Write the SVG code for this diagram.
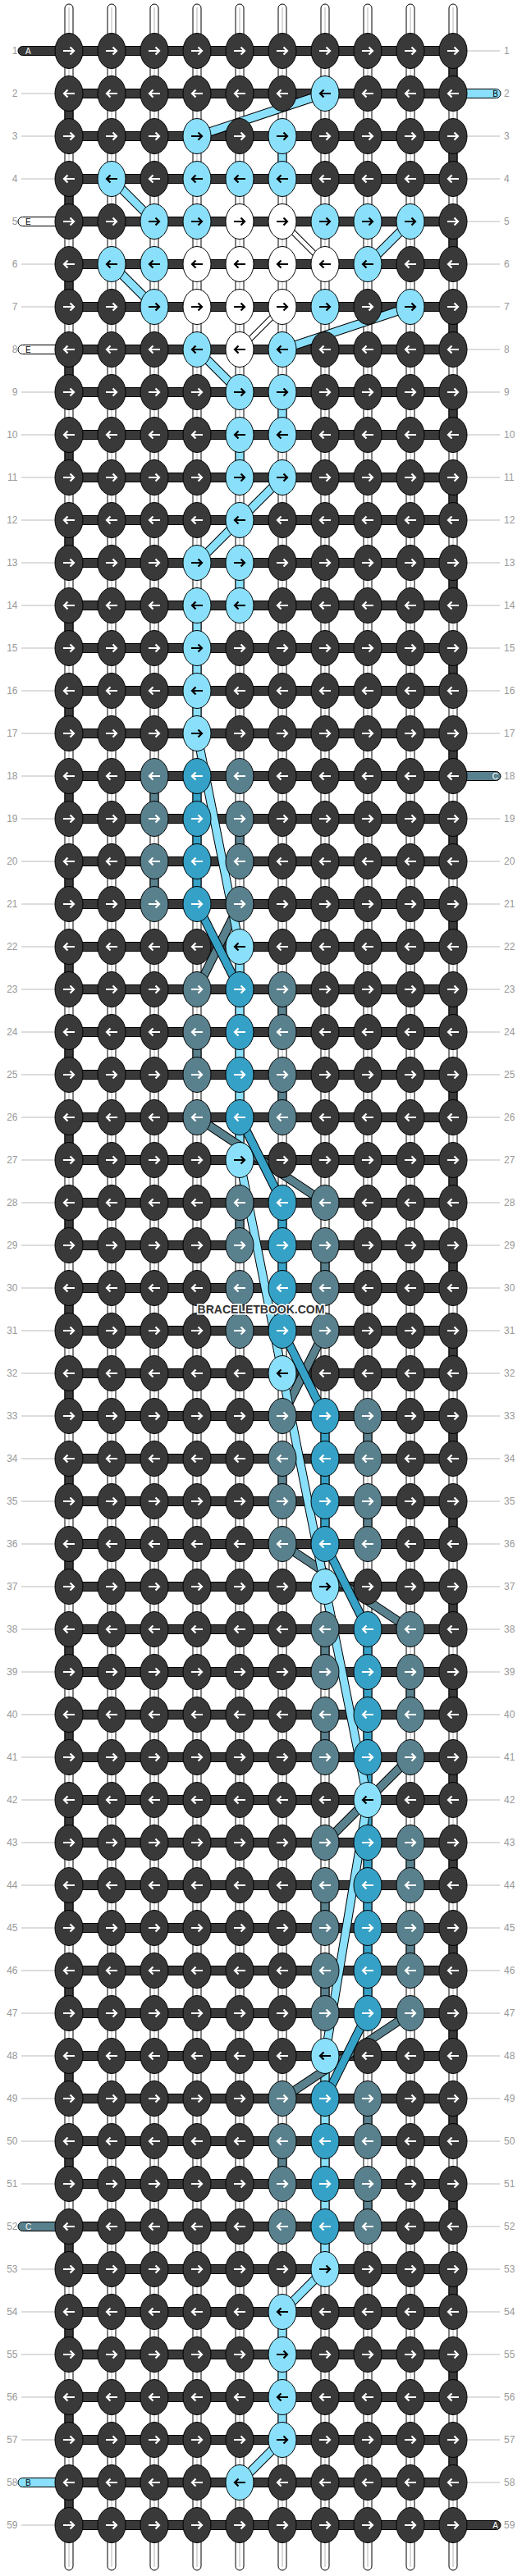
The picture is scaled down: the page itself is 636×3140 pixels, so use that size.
<svg xmlns="http://www.w3.org/2000/svg" xmlns:xlink="http://www.w3.org/1999/xlink" width="636" height="3140" viewBox="0 0 636 3140">
<style>
.wp{fill:#fff;stroke:#000;stroke-width:1}
.wc{stroke:#b4b4b4;stroke-width:1}
.bar{fill:#383838;stroke:#000;stroke-width:1}
.sD{fill:#383838;stroke:#000;stroke-width:1}
.sL{fill:#8ae0fa;stroke:#000;stroke-width:1}
.sM{fill:#35a1c6;stroke:#000;stroke-width:1}
.sG{fill:#59808d;stroke:#000;stroke-width:1}
.sW{fill:#fff;stroke:#000;stroke-width:1}
.ol{fill:none;stroke:#000;stroke-width:11}
.olw{fill:none;stroke:#000;stroke-width:7}
.fL{fill:none;stroke:#8ae0fa;stroke-width:9}
.fM{fill:none;stroke:#35a1c6;stroke-width:9}
.fG{fill:none;stroke:#59808d;stroke-width:9}
.fW{fill:none;stroke:#fff;stroke-width:5}
.ll{stroke:#bbb;stroke-width:1}
.lb{font-family:"Liberation Sans",Arial,sans-serif;font-size:12px;fill:#999}
.lbr{font-family:"Liberation Sans",Arial,sans-serif;font-size:12px;fill:#999}
.tt{font-family:"Liberation Sans",Arial,sans-serif;font-size:10px}
.wm{font-family:"Liberation Sans",Arial,sans-serif;font-size:14px;font-weight:bold;fill:#333;stroke:#fff;stroke-width:3;paint-order:stroke}
</style>
<defs>
<path id="ar" d="M-7,0H5.5M1.5,-4.6L6,0L1.5,4.6" fill="none" stroke-width="2.2"/>
<g id="dR"><ellipse rx="17" ry="21.5" fill="#393939" stroke="#000"/><use href="#ar" stroke="#fff"/></g>
<g id="dL"><ellipse rx="17" ry="21.5" fill="#393939" stroke="#000"/><use href="#ar" stroke="#fff" transform="scale(-1,1)"/></g>
<g id="lR"><ellipse rx="17" ry="21.5" fill="#8ae0fa" stroke="#000"/><use href="#ar" stroke="#000"/></g>
<g id="lL"><ellipse rx="17" ry="21.5" fill="#8ae0fa" stroke="#000"/><use href="#ar" stroke="#000" transform="scale(-1,1)"/></g>
<g id="wR"><ellipse rx="17" ry="21.5" fill="#fff" stroke="#000"/><use href="#ar" stroke="#000"/></g>
<g id="wL"><ellipse rx="17" ry="21.5" fill="#fff" stroke="#000"/><use href="#ar" stroke="#000" transform="scale(-1,1)"/></g>
<g id="mR"><ellipse rx="17" ry="21.5" fill="#35a1c6" stroke="#000"/><use href="#ar" stroke="#fff"/></g>
<g id="mL"><ellipse rx="17" ry="21.5" fill="#35a1c6" stroke="#000"/><use href="#ar" stroke="#fff" transform="scale(-1,1)"/></g>
<g id="gR"><ellipse rx="17" ry="21.5" fill="#59808d" stroke="#000"/><use href="#ar" stroke="#fff"/></g>
<g id="gL"><ellipse rx="17" ry="21.5" fill="#59808d" stroke="#000"/><use href="#ar" stroke="#fff" transform="scale(-1,1)"/></g>
</defs>
<rect width="636" height="3140" fill="#fff"/>
<g id="labels">
<path class="ll" d="M26,114H67M26,166H67M26,218H67M26,322H67M26,374H67M26,478H67M26,530H67M26,582H67M26,634H67M26,686H67M26,738H67M26,790H67M26,842H67M26,894H67M26,946H67M26,998H67M26,1050H67M26,1102H67M26,1154H67M26,1206H67M26,1258H67M26,1310H67M26,1362H67M26,1414H67M26,1466H67M26,1518H67M26,1570H67M26,1622H67M26,1674H67M26,1726H67M26,1778H67M26,1830H67M26,1882H67M26,1934H67M26,1986H67M26,2038H67M26,2090H67M26,2142H67M26,2194H67M26,2246H67M26,2298H67M26,2350H67M26,2402H67M26,2454H67M26,2506H67M26,2558H67M26,2610H67M26,2662H67M26,2766H67M26,2818H67M26,2870H67M26,2922H67M26,2974H67M26,3078H67"/>
<path class="ll" d="M569,62H609M569,166H609M569,218H609M569,270H609M569,322H609M569,374H609M569,426H609M569,478H609M569,530H609M569,582H609M569,634H609M569,686H609M569,738H609M569,790H609M569,842H609M569,894H609M569,998H609M569,1050H609M569,1102H609M569,1154H609M569,1206H609M569,1258H609M569,1310H609M569,1362H609M569,1414H609M569,1466H609M569,1518H609M569,1570H609M569,1622H609M569,1674H609M569,1726H609M569,1778H609M569,1830H609M569,1882H609M569,1934H609M569,1986H609M569,2038H609M569,2090H609M569,2142H609M569,2194H609M569,2246H609M569,2298H609M569,2350H609M569,2402H609M569,2454H609M569,2506H609M569,2558H609M569,2610H609M569,2662H609M569,2714H609M569,2766H609M569,2818H609M569,2870H609M569,2922H609M569,2974H609M569,3026H609"/>
<g class="lb" text-anchor="end">
<text x="21.5" y="66.3">1</text><text x="21.5" y="118.3">2</text><text x="21.5" y="170.3">3</text><text x="21.5" y="222.3">4</text><text x="21.5" y="274.3">5</text><text x="21.5" y="326.3">6</text><text x="21.5" y="378.3">7</text><text x="21.5" y="430.3">8</text><text x="21.5" y="482.3">9</text><text x="21.5" y="534.3">10</text><text x="21.5" y="586.3">11</text><text x="21.5" y="638.3">12</text><text x="21.5" y="690.3">13</text><text x="21.5" y="742.3">14</text><text x="21.5" y="794.3">15</text><text x="21.5" y="846.3">16</text><text x="21.5" y="898.3">17</text><text x="21.5" y="950.3">18</text><text x="21.5" y="1002.3">19</text><text x="21.5" y="1054.3">20</text><text x="21.5" y="1106.3">21</text><text x="21.5" y="1158.3">22</text><text x="21.5" y="1210.3">23</text><text x="21.5" y="1262.3">24</text><text x="21.5" y="1314.3">25</text><text x="21.5" y="1366.3">26</text><text x="21.5" y="1418.3">27</text><text x="21.5" y="1470.3">28</text><text x="21.5" y="1522.3">29</text><text x="21.5" y="1574.3">30</text><text x="21.5" y="1626.3">31</text><text x="21.5" y="1678.3">32</text><text x="21.5" y="1730.3">33</text><text x="21.5" y="1782.3">34</text><text x="21.5" y="1834.3">35</text><text x="21.5" y="1886.3">36</text><text x="21.5" y="1938.3">37</text><text x="21.5" y="1990.3">38</text><text x="21.5" y="2042.3">39</text><text x="21.5" y="2094.3">40</text><text x="21.5" y="2146.3">41</text><text x="21.5" y="2198.3">42</text><text x="21.5" y="2250.3">43</text><text x="21.5" y="2302.3">44</text><text x="21.5" y="2354.3">45</text><text x="21.5" y="2406.3">46</text><text x="21.5" y="2458.3">47</text><text x="21.5" y="2510.3">48</text><text x="21.5" y="2562.3">49</text><text x="21.5" y="2614.3">50</text><text x="21.5" y="2666.3">51</text><text x="21.5" y="2718.3">52</text><text x="21.5" y="2770.3">53</text><text x="21.5" y="2822.3">54</text><text x="21.5" y="2874.3">55</text><text x="21.5" y="2926.3">56</text><text x="21.5" y="2978.3">57</text><text x="21.5" y="3030.3">58</text><text x="21.5" y="3082.3">59</text>
</g>
<g class="lbr">
<text x="614" y="66.3">1</text><text x="614" y="118.3">2</text><text x="614" y="170.3">3</text><text x="614" y="222.3">4</text><text x="614" y="274.3">5</text><text x="614" y="326.3">6</text><text x="614" y="378.3">7</text><text x="614" y="430.3">8</text><text x="614" y="482.3">9</text><text x="614" y="534.3">10</text><text x="614" y="586.3">11</text><text x="614" y="638.3">12</text><text x="614" y="690.3">13</text><text x="614" y="742.3">14</text><text x="614" y="794.3">15</text><text x="614" y="846.3">16</text><text x="614" y="898.3">17</text><text x="614" y="950.3">18</text><text x="614" y="1002.3">19</text><text x="614" y="1054.3">20</text><text x="614" y="1106.3">21</text><text x="614" y="1158.3">22</text><text x="614" y="1210.3">23</text><text x="614" y="1262.3">24</text><text x="614" y="1314.3">25</text><text x="614" y="1366.3">26</text><text x="614" y="1418.3">27</text><text x="614" y="1470.3">28</text><text x="614" y="1522.3">29</text><text x="614" y="1574.3">30</text><text x="614" y="1626.3">31</text><text x="614" y="1678.3">32</text><text x="614" y="1730.3">33</text><text x="614" y="1782.3">34</text><text x="614" y="1834.3">35</text><text x="614" y="1886.3">36</text><text x="614" y="1938.3">37</text><text x="614" y="1990.3">38</text><text x="614" y="2042.3">39</text><text x="614" y="2094.3">40</text><text x="614" y="2146.3">41</text><text x="614" y="2198.3">42</text><text x="614" y="2250.3">43</text><text x="614" y="2302.3">44</text><text x="614" y="2354.3">45</text><text x="614" y="2406.3">46</text><text x="614" y="2458.3">47</text><text x="614" y="2510.3">48</text><text x="614" y="2562.3">49</text><text x="614" y="2614.3">50</text><text x="614" y="2666.3">51</text><text x="614" y="2718.3">52</text><text x="614" y="2770.3">53</text><text x="614" y="2822.3">54</text><text x="614" y="2874.3">55</text><text x="614" y="2926.3">56</text><text x="614" y="2978.3">57</text><text x="614" y="3030.3">58</text><text x="614" y="3082.3">59</text>
</g>
</g>
<g id="connectors">
<g id="warps">
<rect class="wp" x="79" y="5" width="10" height="3128" rx="5"/><rect class="wp" x="131" y="5" width="10" height="3128" rx="5"/><rect class="wp" x="183" y="5" width="10" height="3128" rx="5"/><rect class="wp" x="235" y="5" width="10" height="3128" rx="5"/><rect class="wp" x="287" y="5" width="10" height="3128" rx="5"/><rect class="wp" x="339" y="5" width="10" height="3128" rx="5"/><rect class="wp" x="391" y="5" width="10" height="3128" rx="5"/><rect class="wp" x="443" y="5" width="10" height="3128" rx="5"/><rect class="wp" x="495" y="5" width="10" height="3128" rx="5"/><rect class="wp" x="547" y="5" width="10" height="3128" rx="5"/>
<path class="wc" d="M84,9V3129M136,9V3129M188,9V3129M240,9V3129M292,9V3129M344,9V3129M396,9V3129M448,9V3129M500,9V3129M552,9V3129"/>
</g>
<g id="turns" class="sD">
<rect x="547" y="62" width="10" height="52"/><rect x="547" y="166" width="10" height="52"/><rect x="547" y="270" width="10" height="52"/><rect x="547" y="374" width="10" height="52"/><rect x="547" y="478" width="10" height="52"/><rect x="547" y="582" width="10" height="52"/><rect x="547" y="686" width="10" height="52"/><rect x="547" y="790" width="10" height="52"/><rect x="547" y="894" width="10" height="52"/><rect x="547" y="998" width="10" height="52"/><rect x="547" y="1102" width="10" height="52"/><rect x="547" y="1206" width="10" height="52"/><rect x="547" y="1310" width="10" height="52"/><rect x="547" y="1414" width="10" height="52"/><rect x="547" y="1518" width="10" height="52"/><rect x="547" y="1622" width="10" height="52"/><rect x="547" y="1726" width="10" height="52"/><rect x="547" y="1830" width="10" height="52"/><rect x="547" y="1934" width="10" height="52"/><rect x="547" y="2038" width="10" height="52"/><rect x="547" y="2142" width="10" height="52"/><rect x="547" y="2246" width="10" height="52"/><rect x="547" y="2350" width="10" height="52"/><rect x="547" y="2454" width="10" height="52"/><rect x="547" y="2558" width="10" height="52"/><rect x="547" y="2662" width="10" height="52"/><rect x="547" y="2766" width="10" height="52"/><rect x="547" y="2870" width="10" height="52"/><rect x="547" y="2974" width="10" height="52"/>
<rect x="79" y="114" width="10" height="52"/><rect x="79" y="218" width="10" height="52"/><rect x="79" y="322" width="10" height="52"/><rect x="79" y="426" width="10" height="52"/><rect x="79" y="530" width="10" height="52"/><rect x="79" y="634" width="10" height="52"/><rect x="79" y="738" width="10" height="52"/><rect x="79" y="842" width="10" height="52"/><rect x="79" y="946" width="10" height="52"/><rect x="79" y="1050" width="10" height="52"/><rect x="79" y="1154" width="10" height="52"/><rect x="79" y="1258" width="10" height="52"/><rect x="79" y="1362" width="10" height="52"/><rect x="79" y="1466" width="10" height="52"/><rect x="79" y="1570" width="10" height="52"/><rect x="79" y="1674" width="10" height="52"/><rect x="79" y="1778" width="10" height="52"/><rect x="79" y="1882" width="10" height="52"/><rect x="79" y="1986" width="10" height="52"/><rect x="79" y="2090" width="10" height="52"/><rect x="79" y="2194" width="10" height="52"/><rect x="79" y="2298" width="10" height="52"/><rect x="79" y="2402" width="10" height="52"/><rect x="79" y="2506" width="10" height="52"/><rect x="79" y="2610" width="10" height="52"/><rect x="79" y="2714" width="10" height="52"/><rect x="79" y="2818" width="10" height="52"/><rect x="79" y="2922" width="10" height="52"/><rect x="79" y="3026" width="10" height="52"/>
</g>
<g id="vsegL" class="sL">
<rect x="339" y="166" width="10" height="52"/><rect x="339" y="478" width="10" height="52"/><rect x="287" y="530" width="10" height="52"/><rect x="287" y="686" width="10" height="52"/><rect x="235" y="738" width="10" height="52"/><rect x="235" y="790" width="10" height="52"/><rect x="235" y="842" width="10" height="52"/><rect x="287" y="1154" width="10" height="52"/><rect x="287" y="1206" width="10" height="52"/><rect x="287" y="1258" width="10" height="52"/><rect x="287" y="1310" width="10" height="52"/><rect x="287" y="1362" width="10" height="52"/><rect x="391" y="2506" width="10" height="52"/><rect x="391" y="2558" width="10" height="52"/><rect x="391" y="2610" width="10" height="52"/><rect x="391" y="2662" width="10" height="52"/><rect x="391" y="2714" width="10" height="52"/><rect x="339" y="2818" width="10" height="52"/><rect x="339" y="2870" width="10" height="52"/><rect x="339" y="2922" width="10" height="52"/>
</g>
<g id="vsegM" class="sM">
<rect x="235" y="946" width="10" height="52"/><rect x="235" y="998" width="10" height="52"/><rect x="235" y="1050" width="10" height="52"/><rect x="339" y="1466" width="10" height="52"/><rect x="339" y="1518" width="10" height="52"/><rect x="339" y="1570" width="10" height="52"/><rect x="391" y="1726" width="10" height="52"/><rect x="391" y="1778" width="10" height="52"/><rect x="391" y="1830" width="10" height="52"/><rect x="443" y="1986" width="10" height="52"/><rect x="443" y="2038" width="10" height="52"/><rect x="443" y="2090" width="10" height="52"/><rect x="443" y="2142" width="10" height="52"/><rect x="443" y="2194" width="10" height="52"/><rect x="443" y="2246" width="10" height="52"/><rect x="443" y="2298" width="10" height="52"/><rect x="443" y="2350" width="10" height="52"/><rect x="443" y="2402" width="10" height="52"/>
</g>
<g id="vsegG" class="sG">
<rect x="183" y="946" width="10" height="52"/><rect x="287" y="998" width="10" height="52"/><rect x="183" y="1050" width="10" height="52"/><rect x="339" y="1206" width="10" height="52"/><rect x="235" y="1258" width="10" height="52"/><rect x="339" y="1310" width="10" height="52"/><rect x="287" y="1466" width="10" height="52"/><rect x="391" y="1518" width="10" height="52"/><rect x="287" y="1570" width="10" height="52"/><rect x="443" y="1726" width="10" height="52"/><rect x="339" y="1778" width="10" height="52"/><rect x="443" y="1830" width="10" height="52"/><rect x="391" y="1986" width="10" height="52"/><rect x="495" y="2038" width="10" height="52"/><rect x="391" y="2090" width="10" height="52"/><rect x="495" y="2246" width="10" height="52"/><rect x="391" y="2298" width="10" height="52"/><rect x="495" y="2350" width="10" height="52"/><rect x="391" y="2402" width="10" height="52"/><rect x="443" y="2558" width="10" height="52"/><rect x="339" y="2610" width="10" height="52"/><rect x="443" y="2662" width="10" height="52"/>
</g>
<g id="tails">
<rect class="sD" x="22" y="56.5" width="70" height="11" rx="5.5"/><text class="tt" x="31" y="65.6" fill="#fff">A</text>
<rect class="sL" x="544" y="108.5" width="66" height="11" rx="5.5"/><text class="tt" x="607" y="117.6" text-anchor="end" fill="#000">B</text>
<rect class="sW" x="22" y="264.5" width="70" height="11" rx="5.5"/><text class="tt" x="31" y="273.6" fill="#000">E</text>
<rect class="sW" x="22" y="420.5" width="70" height="11" rx="5.5"/><text class="tt" x="31" y="429.6" fill="#000">E</text>
<rect class="sG" x="544" y="940.5" width="66" height="11" rx="5.5"/><text class="tt" x="607" y="949.6" text-anchor="end" fill="#fff">C</text>
<rect class="sG" x="22" y="2708.5" width="70" height="11" rx="5.5"/><text class="tt" x="31" y="2717.6" fill="#fff">C</text>
<rect class="sL" x="22" y="3020.5" width="70" height="11" rx="5.5"/><text class="tt" x="31" y="3029.6" fill="#000">B</text>
<rect class="sD" x="544" y="3072.5" width="66" height="11" rx="5.5"/><text class="tt" x="607" y="3081.6" text-anchor="end" fill="#fff">A</text>
</g>
<g id="bars" class="bar">
<rect x="84" y="56.5" width="468" height="11"/><rect x="84" y="108.5" width="468" height="11"/><rect x="84" y="160.5" width="468" height="11"/><rect x="84" y="212.5" width="468" height="11"/><rect x="84" y="264.5" width="468" height="11"/><rect x="84" y="316.5" width="468" height="11"/><rect x="84" y="368.5" width="468" height="11"/><rect x="84" y="420.5" width="468" height="11"/><rect x="84" y="472.5" width="468" height="11"/><rect x="84" y="524.5" width="468" height="11"/><rect x="84" y="576.5" width="468" height="11"/><rect x="84" y="628.5" width="468" height="11"/><rect x="84" y="680.5" width="468" height="11"/><rect x="84" y="732.5" width="468" height="11"/><rect x="84" y="784.5" width="468" height="11"/><rect x="84" y="836.5" width="468" height="11"/><rect x="84" y="888.5" width="468" height="11"/><rect x="84" y="940.5" width="468" height="11"/><rect x="84" y="992.5" width="468" height="11"/><rect x="84" y="1044.5" width="468" height="11"/><rect x="84" y="1096.5" width="468" height="11"/><rect x="84" y="1148.5" width="468" height="11"/><rect x="84" y="1200.5" width="468" height="11"/><rect x="84" y="1252.5" width="468" height="11"/><rect x="84" y="1304.5" width="468" height="11"/><rect x="84" y="1356.5" width="468" height="11"/><rect x="84" y="1408.5" width="468" height="11"/><rect x="84" y="1460.5" width="468" height="11"/><rect x="84" y="1512.5" width="468" height="11"/><rect x="84" y="1564.5" width="468" height="11"/><rect x="84" y="1616.5" width="468" height="11"/><rect x="84" y="1668.5" width="468" height="11"/><rect x="84" y="1720.5" width="468" height="11"/><rect x="84" y="1772.5" width="468" height="11"/><rect x="84" y="1824.5" width="468" height="11"/><rect x="84" y="1876.5" width="468" height="11"/><rect x="84" y="1928.5" width="468" height="11"/><rect x="84" y="1980.5" width="468" height="11"/><rect x="84" y="2032.5" width="468" height="11"/><rect x="84" y="2084.5" width="468" height="11"/><rect x="84" y="2136.5" width="468" height="11"/><rect x="84" y="2188.5" width="468" height="11"/><rect x="84" y="2240.5" width="468" height="11"/><rect x="84" y="2292.5" width="468" height="11"/><rect x="84" y="2344.5" width="468" height="11"/><rect x="84" y="2396.5" width="468" height="11"/><rect x="84" y="2448.5" width="468" height="11"/><rect x="84" y="2500.5" width="468" height="11"/><rect x="84" y="2552.5" width="468" height="11"/><rect x="84" y="2604.5" width="468" height="11"/><rect x="84" y="2656.5" width="468" height="11"/><rect x="84" y="2708.5" width="468" height="11"/><rect x="84" y="2760.5" width="468" height="11"/><rect x="84" y="2812.5" width="468" height="11"/><rect x="84" y="2864.5" width="468" height="11"/><rect x="84" y="2916.5" width="468" height="11"/><rect x="84" y="2968.5" width="468" height="11"/><rect x="84" y="3020.5" width="468" height="11"/><rect x="84" y="3072.5" width="468" height="11"/>
</g>
<g id="diagonals">
<path class="ol" d="M292,1102L240,1206M240,1362L396,1466M396,1622L344,1726M344,1882L500,1986M500,2142L396,2246M500,2454L344,2558"/>
<path class="fG" d="M292,1102L240,1206M240,1362L396,1466M396,1622L344,1726M344,1882L500,1986M500,2142L396,2246M500,2454L344,2558"/>
<path class="ol" d="M240,1102L292,1206M292,1362L344,1466M344,1622L396,1726M396,1882L448,1986M448,2454L396,2558"/>
<path class="fM" d="M240,1102L292,1206M292,1362L344,1466M344,1622L396,1726M396,1882L448,1986M448,2454L396,2558"/>
<path class="olw" d="M344,270L396,322M344,374L292,426"/>
<path class="fW" d="M344,270L396,322M344,374L292,426"/>
<path class="ol" d="M396,114L240,166M136,218L188,270M500,270L448,322M136,322L188,374M500,374L344,426M240,426L292,478M344,582L292,634L240,686M240,894L292,1154M292,1414L344,1674L396,1934L448,2194L396,2506M396,2766L344,2818M344,2974L292,3026"/>
<path class="fL" d="M396,114L240,166M136,218L188,270M500,270L448,322M136,322L188,374M500,374L344,426M240,426L292,478M344,582L292,634L240,686M240,894L292,1154M292,1414L344,1674L396,1934L448,2194L396,2506M396,2766L344,2818M344,2974L292,3026"/>
</g>
</g>
<g id="knots">
<g id="row1" transform="translate(0,62)"><use id="k1-1" href="#dR" x="84"/><use id="k1-2" href="#dR" x="136"/><use id="k1-3" href="#dR" x="188"/><use id="k1-4" href="#dR" x="240"/><use id="k1-5" href="#dR" x="292"/><use id="k1-6" href="#dR" x="344"/><use id="k1-7" href="#dR" x="396"/><use id="k1-8" href="#dR" x="448"/><use id="k1-9" href="#dR" x="500"/><use id="k1-10" href="#dR" x="552"/></g>
<g id="row2" transform="translate(0,114)"><use id="k2-1" href="#dL" x="84"/><use id="k2-2" href="#dL" x="136"/><use id="k2-3" href="#dL" x="188"/><use id="k2-4" href="#dL" x="240"/><use id="k2-5" href="#dL" x="292"/><use id="k2-6" href="#dL" x="344"/><use id="k2-7" href="#lL" x="396"/><use id="k2-8" href="#dL" x="448"/><use id="k2-9" href="#dL" x="500"/><use id="k2-10" href="#dL" x="552"/></g>
<g id="row3" transform="translate(0,166)"><use id="k3-1" href="#dR" x="84"/><use id="k3-2" href="#dR" x="136"/><use id="k3-3" href="#dR" x="188"/><use id="k3-4" href="#lR" x="240"/><use id="k3-5" href="#dR" x="292"/><use id="k3-6" href="#lR" x="344"/><use id="k3-7" href="#dR" x="396"/><use id="k3-8" href="#dR" x="448"/><use id="k3-9" href="#dR" x="500"/><use id="k3-10" href="#dR" x="552"/></g>
<g id="row4" transform="translate(0,218)"><use id="k4-1" href="#dL" x="84"/><use id="k4-2" href="#lL" x="136"/><use id="k4-3" href="#dL" x="188"/><use id="k4-4" href="#lL" x="240"/><use id="k4-5" href="#lL" x="292"/><use id="k4-6" href="#lL" x="344"/><use id="k4-7" href="#dL" x="396"/><use id="k4-8" href="#dL" x="448"/><use id="k4-9" href="#dL" x="500"/><use id="k4-10" href="#dL" x="552"/></g>
<g id="row5" transform="translate(0,270)"><use id="k5-1" href="#dR" x="84"/><use id="k5-2" href="#dR" x="136"/><use id="k5-3" href="#lR" x="188"/><use id="k5-4" href="#lR" x="240"/><use id="k5-5" href="#wR" x="292"/><use id="k5-6" href="#wR" x="344"/><use id="k5-7" href="#lR" x="396"/><use id="k5-8" href="#lR" x="448"/><use id="k5-9" href="#lR" x="500"/><use id="k5-10" href="#dR" x="552"/></g>
<g id="row6" transform="translate(0,322)"><use id="k6-1" href="#dL" x="84"/><use id="k6-2" href="#lL" x="136"/><use id="k6-3" href="#lL" x="188"/><use id="k6-4" href="#wL" x="240"/><use id="k6-5" href="#wL" x="292"/><use id="k6-6" href="#wL" x="344"/><use id="k6-7" href="#wL" x="396"/><use id="k6-8" href="#lL" x="448"/><use id="k6-9" href="#dL" x="500"/><use id="k6-10" href="#dL" x="552"/></g>
<g id="row7" transform="translate(0,374)"><use id="k7-1" href="#dR" x="84"/><use id="k7-2" href="#dR" x="136"/><use id="k7-3" href="#lR" x="188"/><use id="k7-4" href="#wR" x="240"/><use id="k7-5" href="#wR" x="292"/><use id="k7-6" href="#wR" x="344"/><use id="k7-7" href="#lR" x="396"/><use id="k7-8" href="#dR" x="448"/><use id="k7-9" href="#lR" x="500"/><use id="k7-10" href="#dR" x="552"/></g>
<g id="row8" transform="translate(0,426)"><use id="k8-1" href="#dL" x="84"/><use id="k8-2" href="#dL" x="136"/><use id="k8-3" href="#dL" x="188"/><use id="k8-4" href="#lL" x="240"/><use id="k8-5" href="#wL" x="292"/><use id="k8-6" href="#lL" x="344"/><use id="k8-7" href="#dL" x="396"/><use id="k8-8" href="#dL" x="448"/><use id="k8-9" href="#dL" x="500"/><use id="k8-10" href="#dL" x="552"/></g>
<g id="row9" transform="translate(0,478)"><use id="k9-1" href="#dR" x="84"/><use id="k9-2" href="#dR" x="136"/><use id="k9-3" href="#dR" x="188"/><use id="k9-4" href="#dR" x="240"/><use id="k9-5" href="#lR" x="292"/><use id="k9-6" href="#lR" x="344"/><use id="k9-7" href="#dR" x="396"/><use id="k9-8" href="#dR" x="448"/><use id="k9-9" href="#dR" x="500"/><use id="k9-10" href="#dR" x="552"/></g>
<g id="row10" transform="translate(0,530)"><use id="k10-1" href="#dL" x="84"/><use id="k10-2" href="#dL" x="136"/><use id="k10-3" href="#dL" x="188"/><use id="k10-4" href="#dL" x="240"/><use id="k10-5" href="#lL" x="292"/><use id="k10-6" href="#lL" x="344"/><use id="k10-7" href="#dL" x="396"/><use id="k10-8" href="#dL" x="448"/><use id="k10-9" href="#dL" x="500"/><use id="k10-10" href="#dL" x="552"/></g>
<g id="row11" transform="translate(0,582)"><use id="k11-1" href="#dR" x="84"/><use id="k11-2" href="#dR" x="136"/><use id="k11-3" href="#dR" x="188"/><use id="k11-4" href="#dR" x="240"/><use id="k11-5" href="#lR" x="292"/><use id="k11-6" href="#lR" x="344"/><use id="k11-7" href="#dR" x="396"/><use id="k11-8" href="#dR" x="448"/><use id="k11-9" href="#dR" x="500"/><use id="k11-10" href="#dR" x="552"/></g>
<g id="row12" transform="translate(0,634)"><use id="k12-1" href="#dL" x="84"/><use id="k12-2" href="#dL" x="136"/><use id="k12-3" href="#dL" x="188"/><use id="k12-4" href="#dL" x="240"/><use id="k12-5" href="#lL" x="292"/><use id="k12-6" href="#dL" x="344"/><use id="k12-7" href="#dL" x="396"/><use id="k12-8" href="#dL" x="448"/><use id="k12-9" href="#dL" x="500"/><use id="k12-10" href="#dL" x="552"/></g>
<g id="row13" transform="translate(0,686)"><use id="k13-1" href="#dR" x="84"/><use id="k13-2" href="#dR" x="136"/><use id="k13-3" href="#dR" x="188"/><use id="k13-4" href="#lR" x="240"/><use id="k13-5" href="#lR" x="292"/><use id="k13-6" href="#dR" x="344"/><use id="k13-7" href="#dR" x="396"/><use id="k13-8" href="#dR" x="448"/><use id="k13-9" href="#dR" x="500"/><use id="k13-10" href="#dR" x="552"/></g>
<g id="row14" transform="translate(0,738)"><use id="k14-1" href="#dL" x="84"/><use id="k14-2" href="#dL" x="136"/><use id="k14-3" href="#dL" x="188"/><use id="k14-4" href="#lL" x="240"/><use id="k14-5" href="#lL" x="292"/><use id="k14-6" href="#dL" x="344"/><use id="k14-7" href="#dL" x="396"/><use id="k14-8" href="#dL" x="448"/><use id="k14-9" href="#dL" x="500"/><use id="k14-10" href="#dL" x="552"/></g>
<g id="row15" transform="translate(0,790)"><use id="k15-1" href="#dR" x="84"/><use id="k15-2" href="#dR" x="136"/><use id="k15-3" href="#dR" x="188"/><use id="k15-4" href="#lR" x="240"/><use id="k15-5" href="#dR" x="292"/><use id="k15-6" href="#dR" x="344"/><use id="k15-7" href="#dR" x="396"/><use id="k15-8" href="#dR" x="448"/><use id="k15-9" href="#dR" x="500"/><use id="k15-10" href="#dR" x="552"/></g>
<g id="row16" transform="translate(0,842)"><use id="k16-1" href="#dL" x="84"/><use id="k16-2" href="#dL" x="136"/><use id="k16-3" href="#dL" x="188"/><use id="k16-4" href="#lL" x="240"/><use id="k16-5" href="#dL" x="292"/><use id="k16-6" href="#dL" x="344"/><use id="k16-7" href="#dL" x="396"/><use id="k16-8" href="#dL" x="448"/><use id="k16-9" href="#dL" x="500"/><use id="k16-10" href="#dL" x="552"/></g>
<g id="row17" transform="translate(0,894)"><use id="k17-1" href="#dR" x="84"/><use id="k17-2" href="#dR" x="136"/><use id="k17-3" href="#dR" x="188"/><use id="k17-4" href="#lR" x="240"/><use id="k17-5" href="#dR" x="292"/><use id="k17-6" href="#dR" x="344"/><use id="k17-7" href="#dR" x="396"/><use id="k17-8" href="#dR" x="448"/><use id="k17-9" href="#dR" x="500"/><use id="k17-10" href="#dR" x="552"/></g>
<g id="row18" transform="translate(0,946)"><use id="k18-1" href="#dL" x="84"/><use id="k18-2" href="#dL" x="136"/><use id="k18-3" href="#gL" x="188"/><use id="k18-4" href="#mL" x="240"/><use id="k18-5" href="#gL" x="292"/><use id="k18-6" href="#dL" x="344"/><use id="k18-7" href="#dL" x="396"/><use id="k18-8" href="#dL" x="448"/><use id="k18-9" href="#dL" x="500"/><use id="k18-10" href="#dL" x="552"/></g>
<g id="row19" transform="translate(0,998)"><use id="k19-1" href="#dR" x="84"/><use id="k19-2" href="#dR" x="136"/><use id="k19-3" href="#gR" x="188"/><use id="k19-4" href="#mR" x="240"/><use id="k19-5" href="#gR" x="292"/><use id="k19-6" href="#dR" x="344"/><use id="k19-7" href="#dR" x="396"/><use id="k19-8" href="#dR" x="448"/><use id="k19-9" href="#dR" x="500"/><use id="k19-10" href="#dR" x="552"/></g>
<g id="row20" transform="translate(0,1050)"><use id="k20-1" href="#dL" x="84"/><use id="k20-2" href="#dL" x="136"/><use id="k20-3" href="#gL" x="188"/><use id="k20-4" href="#mL" x="240"/><use id="k20-5" href="#gL" x="292"/><use id="k20-6" href="#dL" x="344"/><use id="k20-7" href="#dL" x="396"/><use id="k20-8" href="#dL" x="448"/><use id="k20-9" href="#dL" x="500"/><use id="k20-10" href="#dL" x="552"/></g>
<g id="row21" transform="translate(0,1102)"><use id="k21-1" href="#dR" x="84"/><use id="k21-2" href="#dR" x="136"/><use id="k21-3" href="#gR" x="188"/><use id="k21-4" href="#mR" x="240"/><use id="k21-5" href="#gR" x="292"/><use id="k21-6" href="#dR" x="344"/><use id="k21-7" href="#dR" x="396"/><use id="k21-8" href="#dR" x="448"/><use id="k21-9" href="#dR" x="500"/><use id="k21-10" href="#dR" x="552"/></g>
<g id="row22" transform="translate(0,1154)"><use id="k22-1" href="#dL" x="84"/><use id="k22-2" href="#dL" x="136"/><use id="k22-3" href="#dL" x="188"/><use id="k22-4" href="#dL" x="240"/><use id="k22-5" href="#lL" x="292"/><use id="k22-6" href="#dL" x="344"/><use id="k22-7" href="#dL" x="396"/><use id="k22-8" href="#dL" x="448"/><use id="k22-9" href="#dL" x="500"/><use id="k22-10" href="#dL" x="552"/></g>
<g id="row23" transform="translate(0,1206)"><use id="k23-1" href="#dR" x="84"/><use id="k23-2" href="#dR" x="136"/><use id="k23-3" href="#dR" x="188"/><use id="k23-4" href="#gR" x="240"/><use id="k23-5" href="#mR" x="292"/><use id="k23-6" href="#gR" x="344"/><use id="k23-7" href="#dR" x="396"/><use id="k23-8" href="#dR" x="448"/><use id="k23-9" href="#dR" x="500"/><use id="k23-10" href="#dR" x="552"/></g>
<g id="row24" transform="translate(0,1258)"><use id="k24-1" href="#dL" x="84"/><use id="k24-2" href="#dL" x="136"/><use id="k24-3" href="#dL" x="188"/><use id="k24-4" href="#gL" x="240"/><use id="k24-5" href="#mL" x="292"/><use id="k24-6" href="#gL" x="344"/><use id="k24-7" href="#dL" x="396"/><use id="k24-8" href="#dL" x="448"/><use id="k24-9" href="#dL" x="500"/><use id="k24-10" href="#dL" x="552"/></g>
<g id="row25" transform="translate(0,1310)"><use id="k25-1" href="#dR" x="84"/><use id="k25-2" href="#dR" x="136"/><use id="k25-3" href="#dR" x="188"/><use id="k25-4" href="#gR" x="240"/><use id="k25-5" href="#mR" x="292"/><use id="k25-6" href="#gR" x="344"/><use id="k25-7" href="#dR" x="396"/><use id="k25-8" href="#dR" x="448"/><use id="k25-9" href="#dR" x="500"/><use id="k25-10" href="#dR" x="552"/></g>
<g id="row26" transform="translate(0,1362)"><use id="k26-1" href="#dL" x="84"/><use id="k26-2" href="#dL" x="136"/><use id="k26-3" href="#dL" x="188"/><use id="k26-4" href="#gL" x="240"/><use id="k26-5" href="#mL" x="292"/><use id="k26-6" href="#gL" x="344"/><use id="k26-7" href="#dL" x="396"/><use id="k26-8" href="#dL" x="448"/><use id="k26-9" href="#dL" x="500"/><use id="k26-10" href="#dL" x="552"/></g>
<g id="row27" transform="translate(0,1414)"><use id="k27-1" href="#dR" x="84"/><use id="k27-2" href="#dR" x="136"/><use id="k27-3" href="#dR" x="188"/><use id="k27-4" href="#dR" x="240"/><use id="k27-5" href="#lR" x="292"/><use id="k27-6" href="#dR" x="344"/><use id="k27-7" href="#dR" x="396"/><use id="k27-8" href="#dR" x="448"/><use id="k27-9" href="#dR" x="500"/><use id="k27-10" href="#dR" x="552"/></g>
<g id="row28" transform="translate(0,1466)"><use id="k28-1" href="#dL" x="84"/><use id="k28-2" href="#dL" x="136"/><use id="k28-3" href="#dL" x="188"/><use id="k28-4" href="#dL" x="240"/><use id="k28-5" href="#gL" x="292"/><use id="k28-6" href="#mL" x="344"/><use id="k28-7" href="#gL" x="396"/><use id="k28-8" href="#dL" x="448"/><use id="k28-9" href="#dL" x="500"/><use id="k28-10" href="#dL" x="552"/></g>
<g id="row29" transform="translate(0,1518)"><use id="k29-1" href="#dR" x="84"/><use id="k29-2" href="#dR" x="136"/><use id="k29-3" href="#dR" x="188"/><use id="k29-4" href="#dR" x="240"/><use id="k29-5" href="#gR" x="292"/><use id="k29-6" href="#mR" x="344"/><use id="k29-7" href="#gR" x="396"/><use id="k29-8" href="#dR" x="448"/><use id="k29-9" href="#dR" x="500"/><use id="k29-10" href="#dR" x="552"/></g>
<g id="row30" transform="translate(0,1570)"><use id="k30-1" href="#dL" x="84"/><use id="k30-2" href="#dL" x="136"/><use id="k30-3" href="#dL" x="188"/><use id="k30-4" href="#dL" x="240"/><use id="k30-5" href="#gL" x="292"/><use id="k30-6" href="#mL" x="344"/><use id="k30-7" href="#gL" x="396"/><use id="k30-8" href="#dL" x="448"/><use id="k30-9" href="#dL" x="500"/><use id="k30-10" href="#dL" x="552"/></g>
<g id="row31" transform="translate(0,1622)"><use id="k31-1" href="#dR" x="84"/><use id="k31-2" href="#dR" x="136"/><use id="k31-3" href="#dR" x="188"/><use id="k31-4" href="#dR" x="240"/><use id="k31-5" href="#gR" x="292"/><use id="k31-6" href="#mR" x="344"/><use id="k31-7" href="#gR" x="396"/><use id="k31-8" href="#dR" x="448"/><use id="k31-9" href="#dR" x="500"/><use id="k31-10" href="#dR" x="552"/></g>
<g id="row32" transform="translate(0,1674)"><use id="k32-1" href="#dL" x="84"/><use id="k32-2" href="#dL" x="136"/><use id="k32-3" href="#dL" x="188"/><use id="k32-4" href="#dL" x="240"/><use id="k32-5" href="#dL" x="292"/><use id="k32-6" href="#lL" x="344"/><use id="k32-7" href="#dL" x="396"/><use id="k32-8" href="#dL" x="448"/><use id="k32-9" href="#dL" x="500"/><use id="k32-10" href="#dL" x="552"/></g>
<g id="row33" transform="translate(0,1726)"><use id="k33-1" href="#dR" x="84"/><use id="k33-2" href="#dR" x="136"/><use id="k33-3" href="#dR" x="188"/><use id="k33-4" href="#dR" x="240"/><use id="k33-5" href="#dR" x="292"/><use id="k33-6" href="#gR" x="344"/><use id="k33-7" href="#mR" x="396"/><use id="k33-8" href="#gR" x="448"/><use id="k33-9" href="#dR" x="500"/><use id="k33-10" href="#dR" x="552"/></g>
<g id="row34" transform="translate(0,1778)"><use id="k34-1" href="#dL" x="84"/><use id="k34-2" href="#dL" x="136"/><use id="k34-3" href="#dL" x="188"/><use id="k34-4" href="#dL" x="240"/><use id="k34-5" href="#dL" x="292"/><use id="k34-6" href="#gL" x="344"/><use id="k34-7" href="#mL" x="396"/><use id="k34-8" href="#gL" x="448"/><use id="k34-9" href="#dL" x="500"/><use id="k34-10" href="#dL" x="552"/></g>
<g id="row35" transform="translate(0,1830)"><use id="k35-1" href="#dR" x="84"/><use id="k35-2" href="#dR" x="136"/><use id="k35-3" href="#dR" x="188"/><use id="k35-4" href="#dR" x="240"/><use id="k35-5" href="#dR" x="292"/><use id="k35-6" href="#gR" x="344"/><use id="k35-7" href="#mR" x="396"/><use id="k35-8" href="#gR" x="448"/><use id="k35-9" href="#dR" x="500"/><use id="k35-10" href="#dR" x="552"/></g>
<g id="row36" transform="translate(0,1882)"><use id="k36-1" href="#dL" x="84"/><use id="k36-2" href="#dL" x="136"/><use id="k36-3" href="#dL" x="188"/><use id="k36-4" href="#dL" x="240"/><use id="k36-5" href="#dL" x="292"/><use id="k36-6" href="#gL" x="344"/><use id="k36-7" href="#mL" x="396"/><use id="k36-8" href="#gL" x="448"/><use id="k36-9" href="#dL" x="500"/><use id="k36-10" href="#dL" x="552"/></g>
<g id="row37" transform="translate(0,1934)"><use id="k37-1" href="#dR" x="84"/><use id="k37-2" href="#dR" x="136"/><use id="k37-3" href="#dR" x="188"/><use id="k37-4" href="#dR" x="240"/><use id="k37-5" href="#dR" x="292"/><use id="k37-6" href="#dR" x="344"/><use id="k37-7" href="#lR" x="396"/><use id="k37-8" href="#dR" x="448"/><use id="k37-9" href="#dR" x="500"/><use id="k37-10" href="#dR" x="552"/></g>
<g id="row38" transform="translate(0,1986)"><use id="k38-1" href="#dL" x="84"/><use id="k38-2" href="#dL" x="136"/><use id="k38-3" href="#dL" x="188"/><use id="k38-4" href="#dL" x="240"/><use id="k38-5" href="#dL" x="292"/><use id="k38-6" href="#dL" x="344"/><use id="k38-7" href="#gL" x="396"/><use id="k38-8" href="#mL" x="448"/><use id="k38-9" href="#gL" x="500"/><use id="k38-10" href="#dL" x="552"/></g>
<g id="row39" transform="translate(0,2038)"><use id="k39-1" href="#dR" x="84"/><use id="k39-2" href="#dR" x="136"/><use id="k39-3" href="#dR" x="188"/><use id="k39-4" href="#dR" x="240"/><use id="k39-5" href="#dR" x="292"/><use id="k39-6" href="#dR" x="344"/><use id="k39-7" href="#gR" x="396"/><use id="k39-8" href="#mR" x="448"/><use id="k39-9" href="#gR" x="500"/><use id="k39-10" href="#dR" x="552"/></g>
<g id="row40" transform="translate(0,2090)"><use id="k40-1" href="#dL" x="84"/><use id="k40-2" href="#dL" x="136"/><use id="k40-3" href="#dL" x="188"/><use id="k40-4" href="#dL" x="240"/><use id="k40-5" href="#dL" x="292"/><use id="k40-6" href="#dL" x="344"/><use id="k40-7" href="#gL" x="396"/><use id="k40-8" href="#mL" x="448"/><use id="k40-9" href="#gL" x="500"/><use id="k40-10" href="#dL" x="552"/></g>
<g id="row41" transform="translate(0,2142)"><use id="k41-1" href="#dR" x="84"/><use id="k41-2" href="#dR" x="136"/><use id="k41-3" href="#dR" x="188"/><use id="k41-4" href="#dR" x="240"/><use id="k41-5" href="#dR" x="292"/><use id="k41-6" href="#dR" x="344"/><use id="k41-7" href="#gR" x="396"/><use id="k41-8" href="#mR" x="448"/><use id="k41-9" href="#gR" x="500"/><use id="k41-10" href="#dR" x="552"/></g>
<g id="row42" transform="translate(0,2194)"><use id="k42-1" href="#dL" x="84"/><use id="k42-2" href="#dL" x="136"/><use id="k42-3" href="#dL" x="188"/><use id="k42-4" href="#dL" x="240"/><use id="k42-5" href="#dL" x="292"/><use id="k42-6" href="#dL" x="344"/><use id="k42-7" href="#dL" x="396"/><use id="k42-8" href="#lL" x="448"/><use id="k42-9" href="#dL" x="500"/><use id="k42-10" href="#dL" x="552"/></g>
<g id="row43" transform="translate(0,2246)"><use id="k43-1" href="#dR" x="84"/><use id="k43-2" href="#dR" x="136"/><use id="k43-3" href="#dR" x="188"/><use id="k43-4" href="#dR" x="240"/><use id="k43-5" href="#dR" x="292"/><use id="k43-6" href="#dR" x="344"/><use id="k43-7" href="#gR" x="396"/><use id="k43-8" href="#mR" x="448"/><use id="k43-9" href="#gR" x="500"/><use id="k43-10" href="#dR" x="552"/></g>
<g id="row44" transform="translate(0,2298)"><use id="k44-1" href="#dL" x="84"/><use id="k44-2" href="#dL" x="136"/><use id="k44-3" href="#dL" x="188"/><use id="k44-4" href="#dL" x="240"/><use id="k44-5" href="#dL" x="292"/><use id="k44-6" href="#dL" x="344"/><use id="k44-7" href="#gL" x="396"/><use id="k44-8" href="#mL" x="448"/><use id="k44-9" href="#gL" x="500"/><use id="k44-10" href="#dL" x="552"/></g>
<g id="row45" transform="translate(0,2350)"><use id="k45-1" href="#dR" x="84"/><use id="k45-2" href="#dR" x="136"/><use id="k45-3" href="#dR" x="188"/><use id="k45-4" href="#dR" x="240"/><use id="k45-5" href="#dR" x="292"/><use id="k45-6" href="#dR" x="344"/><use id="k45-7" href="#gR" x="396"/><use id="k45-8" href="#mR" x="448"/><use id="k45-9" href="#gR" x="500"/><use id="k45-10" href="#dR" x="552"/></g>
<g id="row46" transform="translate(0,2402)"><use id="k46-1" href="#dL" x="84"/><use id="k46-2" href="#dL" x="136"/><use id="k46-3" href="#dL" x="188"/><use id="k46-4" href="#dL" x="240"/><use id="k46-5" href="#dL" x="292"/><use id="k46-6" href="#dL" x="344"/><use id="k46-7" href="#gL" x="396"/><use id="k46-8" href="#mL" x="448"/><use id="k46-9" href="#gL" x="500"/><use id="k46-10" href="#dL" x="552"/></g>
<g id="row47" transform="translate(0,2454)"><use id="k47-1" href="#dR" x="84"/><use id="k47-2" href="#dR" x="136"/><use id="k47-3" href="#dR" x="188"/><use id="k47-4" href="#dR" x="240"/><use id="k47-5" href="#dR" x="292"/><use id="k47-6" href="#dR" x="344"/><use id="k47-7" href="#gR" x="396"/><use id="k47-8" href="#mR" x="448"/><use id="k47-9" href="#gR" x="500"/><use id="k47-10" href="#dR" x="552"/></g>
<g id="row48" transform="translate(0,2506)"><use id="k48-1" href="#dL" x="84"/><use id="k48-2" href="#dL" x="136"/><use id="k48-3" href="#dL" x="188"/><use id="k48-4" href="#dL" x="240"/><use id="k48-5" href="#dL" x="292"/><use id="k48-6" href="#dL" x="344"/><use id="k48-7" href="#lL" x="396"/><use id="k48-8" href="#dL" x="448"/><use id="k48-9" href="#dL" x="500"/><use id="k48-10" href="#dL" x="552"/></g>
<g id="row49" transform="translate(0,2558)"><use id="k49-1" href="#dR" x="84"/><use id="k49-2" href="#dR" x="136"/><use id="k49-3" href="#dR" x="188"/><use id="k49-4" href="#dR" x="240"/><use id="k49-5" href="#dR" x="292"/><use id="k49-6" href="#gR" x="344"/><use id="k49-7" href="#mR" x="396"/><use id="k49-8" href="#gR" x="448"/><use id="k49-9" href="#dR" x="500"/><use id="k49-10" href="#dR" x="552"/></g>
<g id="row50" transform="translate(0,2610)"><use id="k50-1" href="#dL" x="84"/><use id="k50-2" href="#dL" x="136"/><use id="k50-3" href="#dL" x="188"/><use id="k50-4" href="#dL" x="240"/><use id="k50-5" href="#dL" x="292"/><use id="k50-6" href="#gL" x="344"/><use id="k50-7" href="#mL" x="396"/><use id="k50-8" href="#gL" x="448"/><use id="k50-9" href="#dL" x="500"/><use id="k50-10" href="#dL" x="552"/></g>
<g id="row51" transform="translate(0,2662)"><use id="k51-1" href="#dR" x="84"/><use id="k51-2" href="#dR" x="136"/><use id="k51-3" href="#dR" x="188"/><use id="k51-4" href="#dR" x="240"/><use id="k51-5" href="#dR" x="292"/><use id="k51-6" href="#gR" x="344"/><use id="k51-7" href="#mR" x="396"/><use id="k51-8" href="#gR" x="448"/><use id="k51-9" href="#dR" x="500"/><use id="k51-10" href="#dR" x="552"/></g>
<g id="row52" transform="translate(0,2714)"><use id="k52-1" href="#dL" x="84"/><use id="k52-2" href="#dL" x="136"/><use id="k52-3" href="#dL" x="188"/><use id="k52-4" href="#dL" x="240"/><use id="k52-5" href="#dL" x="292"/><use id="k52-6" href="#gL" x="344"/><use id="k52-7" href="#mL" x="396"/><use id="k52-8" href="#gL" x="448"/><use id="k52-9" href="#dL" x="500"/><use id="k52-10" href="#dL" x="552"/></g>
<g id="row53" transform="translate(0,2766)"><use id="k53-1" href="#dR" x="84"/><use id="k53-2" href="#dR" x="136"/><use id="k53-3" href="#dR" x="188"/><use id="k53-4" href="#dR" x="240"/><use id="k53-5" href="#dR" x="292"/><use id="k53-6" href="#dR" x="344"/><use id="k53-7" href="#lR" x="396"/><use id="k53-8" href="#dR" x="448"/><use id="k53-9" href="#dR" x="500"/><use id="k53-10" href="#dR" x="552"/></g>
<g id="row54" transform="translate(0,2818)"><use id="k54-1" href="#dL" x="84"/><use id="k54-2" href="#dL" x="136"/><use id="k54-3" href="#dL" x="188"/><use id="k54-4" href="#dL" x="240"/><use id="k54-5" href="#dL" x="292"/><use id="k54-6" href="#lL" x="344"/><use id="k54-7" href="#dL" x="396"/><use id="k54-8" href="#dL" x="448"/><use id="k54-9" href="#dL" x="500"/><use id="k54-10" href="#dL" x="552"/></g>
<g id="row55" transform="translate(0,2870)"><use id="k55-1" href="#dR" x="84"/><use id="k55-2" href="#dR" x="136"/><use id="k55-3" href="#dR" x="188"/><use id="k55-4" href="#dR" x="240"/><use id="k55-5" href="#dR" x="292"/><use id="k55-6" href="#lR" x="344"/><use id="k55-7" href="#dR" x="396"/><use id="k55-8" href="#dR" x="448"/><use id="k55-9" href="#dR" x="500"/><use id="k55-10" href="#dR" x="552"/></g>
<g id="row56" transform="translate(0,2922)"><use id="k56-1" href="#dL" x="84"/><use id="k56-2" href="#dL" x="136"/><use id="k56-3" href="#dL" x="188"/><use id="k56-4" href="#dL" x="240"/><use id="k56-5" href="#dL" x="292"/><use id="k56-6" href="#lL" x="344"/><use id="k56-7" href="#dL" x="396"/><use id="k56-8" href="#dL" x="448"/><use id="k56-9" href="#dL" x="500"/><use id="k56-10" href="#dL" x="552"/></g>
<g id="row57" transform="translate(0,2974)"><use id="k57-1" href="#dR" x="84"/><use id="k57-2" href="#dR" x="136"/><use id="k57-3" href="#dR" x="188"/><use id="k57-4" href="#dR" x="240"/><use id="k57-5" href="#dR" x="292"/><use id="k57-6" href="#lR" x="344"/><use id="k57-7" href="#dR" x="396"/><use id="k57-8" href="#dR" x="448"/><use id="k57-9" href="#dR" x="500"/><use id="k57-10" href="#dR" x="552"/></g>
<g id="row58" transform="translate(0,3026)"><use id="k58-1" href="#dL" x="84"/><use id="k58-2" href="#dL" x="136"/><use id="k58-3" href="#dL" x="188"/><use id="k58-4" href="#dL" x="240"/><use id="k58-5" href="#lL" x="292"/><use id="k58-6" href="#dL" x="344"/><use id="k58-7" href="#dL" x="396"/><use id="k58-8" href="#dL" x="448"/><use id="k58-9" href="#dL" x="500"/><use id="k58-10" href="#dL" x="552"/></g>
<g id="row59" transform="translate(0,3078)"><use id="k59-1" href="#dR" x="84"/><use id="k59-2" href="#dR" x="136"/><use id="k59-3" href="#dR" x="188"/><use id="k59-4" href="#dR" x="240"/><use id="k59-5" href="#dR" x="292"/><use id="k59-6" href="#dR" x="344"/><use id="k59-7" href="#dR" x="396"/><use id="k59-8" href="#dR" x="448"/><use id="k59-9" href="#dR" x="500"/><use id="k59-10" href="#dR" x="552"/></g>
</g>
<text id="watermark" class="wm" x="318" y="1601" text-anchor="middle">BRACELETBOOK.COM</text>
</svg>
